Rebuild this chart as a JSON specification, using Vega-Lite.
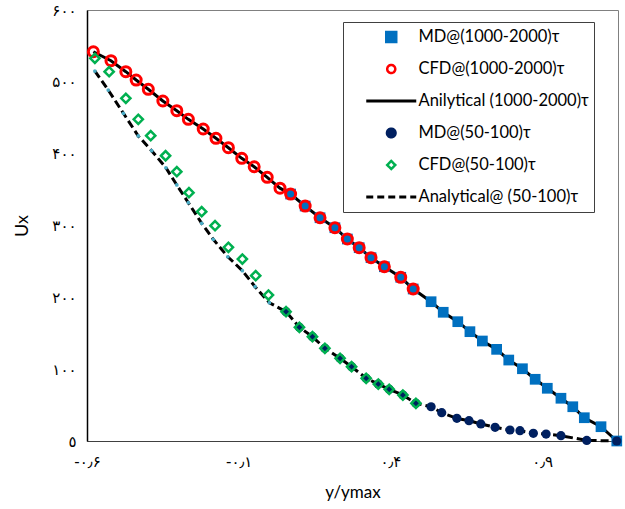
{
  "$schema": "https://vega.github.io/schema/vega-lite/v6.json",
  "width": 531,
  "height": 431,
  "autosize": "none",
  "padding": {"left": 87, "top": 10, "right": 7, "bottom": 68},
  "config": {
    "locale": {"number": {"decimal": "٫", "thousands": "٬", "grouping": [3], "currency": ["", ""], "numerals": ["۰","۱","۲","۳","۴","۵","۶","۷","۸","۹"], "minus": "-"}},
    "view": {"stroke": "#808080", "strokeWidth": 1},
    "font": "Lato"
  },
  "data": {"values": [
    {"s": "MD@(1000-2000)τ", "x": 0.071, "y": 343.8},
    {"s": "MD@(1000-2000)τ", "x": 0.119, "y": 327.1},
    {"s": "MD@(1000-2000)τ", "x": 0.168, "y": 310.8},
    {"s": "MD@(1000-2000)τ", "x": 0.217, "y": 296.9},
    {"s": "MD@(1000-2000)τ", "x": 0.258, "y": 281.2},
    {"s": "MD@(1000-2000)τ", "x": 0.297, "y": 269.1},
    {"s": "MD@(1000-2000)τ", "x": 0.336, "y": 255.2},
    {"s": "MD@(1000-2000)τ", "x": 0.380, "y": 242.6},
    {"s": "MD@(1000-2000)τ", "x": 0.434, "y": 227.9},
    {"s": "MD@(1000-2000)τ", "x": 0.475, "y": 211.6},
    {"s": "MD@(1000-2000)τ", "x": 0.534, "y": 193.9},
    {"s": "MD@(1000-2000)τ", "x": 0.574, "y": 179.2},
    {"s": "MD@(1000-2000)τ", "x": 0.622, "y": 166.1},
    {"s": "MD@(1000-2000)τ", "x": 0.662, "y": 152.2},
    {"s": "MD@(1000-2000)τ", "x": 0.703, "y": 139.2},
    {"s": "MD@(1000-2000)τ", "x": 0.750, "y": 127.6},
    {"s": "MD@(1000-2000)τ", "x": 0.790, "y": 112.7},
    {"s": "MD@(1000-2000)τ", "x": 0.835, "y": 100.6},
    {"s": "MD@(1000-2000)τ", "x": 0.877, "y": 85.9},
    {"s": "MD@(1000-2000)τ", "x": 0.917, "y": 73.4},
    {"s": "MD@(1000-2000)τ", "x": 0.962, "y": 59.5},
    {"s": "MD@(1000-2000)τ", "x": 1.001, "y": 47.7},
    {"s": "MD@(1000-2000)τ", "x": 1.039, "y": 32.4},
    {"s": "MD@(1000-2000)τ", "x": 1.094, "y": 19.9},
    {"s": "MD@(1000-2000)τ", "x": 1.146, "y": 0},

    {"s": "CFD@(1000-2000)τ", "x": -0.579, "y": 541.9},
    {"s": "CFD@(1000-2000)τ", "x": -0.521, "y": 529.4},
    {"s": "CFD@(1000-2000)τ", "x": -0.472, "y": 514.1},
    {"s": "CFD@(1000-2000)τ", "x": -0.438, "y": 502.5},
    {"s": "CFD@(1000-2000)τ", "x": -0.398, "y": 489.6},
    {"s": "CFD@(1000-2000)τ", "x": -0.350, "y": 473.3},
    {"s": "CFD@(1000-2000)τ", "x": -0.304, "y": 459.8},
    {"s": "CFD@(1000-2000)τ", "x": -0.266, "y": 447.8},
    {"s": "CFD@(1000-2000)τ", "x": -0.217, "y": 434.3},
    {"s": "CFD@(1000-2000)τ", "x": -0.175, "y": 421.4},
    {"s": "CFD@(1000-2000)τ", "x": -0.134, "y": 408.3},
    {"s": "CFD@(1000-2000)τ", "x": -0.090, "y": 393.5},
    {"s": "CFD@(1000-2000)τ", "x": -0.049, "y": 381.8},
    {"s": "CFD@(1000-2000)τ", "x": -0.006, "y": 367.1},
    {"s": "CFD@(1000-2000)τ", "x": 0.036, "y": 352.0},
    {"s": "CFD@(1000-2000)τ", "x": 0.071, "y": 343.8},
    {"s": "CFD@(1000-2000)τ", "x": 0.119, "y": 327.1},
    {"s": "CFD@(1000-2000)τ", "x": 0.168, "y": 310.8},
    {"s": "CFD@(1000-2000)τ", "x": 0.217, "y": 296.9},
    {"s": "CFD@(1000-2000)τ", "x": 0.258, "y": 281.2},
    {"s": "CFD@(1000-2000)τ", "x": 0.297, "y": 269.1},
    {"s": "CFD@(1000-2000)τ", "x": 0.336, "y": 255.2},
    {"s": "CFD@(1000-2000)τ", "x": 0.380, "y": 242.6},
    {"s": "CFD@(1000-2000)τ", "x": 0.434, "y": 227.9},
    {"s": "CFD@(1000-2000)τ", "x": 0.475, "y": 211.6},

    {"s": "Anilytical (1000-2000)τ", "x": -0.579, "y": 541.9},
    {"s": "Anilytical (1000-2000)τ", "x": -0.521, "y": 529.4},
    {"s": "Anilytical (1000-2000)τ", "x": -0.472, "y": 514.1},
    {"s": "Anilytical (1000-2000)τ", "x": -0.438, "y": 502.5},
    {"s": "Anilytical (1000-2000)τ", "x": -0.398, "y": 489.6},
    {"s": "Anilytical (1000-2000)τ", "x": -0.350, "y": 473.3},
    {"s": "Anilytical (1000-2000)τ", "x": -0.304, "y": 459.8},
    {"s": "Anilytical (1000-2000)τ", "x": -0.266, "y": 447.8},
    {"s": "Anilytical (1000-2000)τ", "x": -0.217, "y": 434.3},
    {"s": "Anilytical (1000-2000)τ", "x": -0.175, "y": 421.4},
    {"s": "Anilytical (1000-2000)τ", "x": -0.134, "y": 408.3},
    {"s": "Anilytical (1000-2000)τ", "x": -0.090, "y": 393.5},
    {"s": "Anilytical (1000-2000)τ", "x": -0.049, "y": 381.8},
    {"s": "Anilytical (1000-2000)τ", "x": -0.006, "y": 367.1},
    {"s": "Anilytical (1000-2000)τ", "x": 0.036, "y": 352.0},
    {"s": "Anilytical (1000-2000)τ", "x": 0.071, "y": 343.8},
    {"s": "Anilytical (1000-2000)τ", "x": 0.119, "y": 327.1},
    {"s": "Anilytical (1000-2000)τ", "x": 0.168, "y": 310.8},
    {"s": "Anilytical (1000-2000)τ", "x": 0.217, "y": 296.9},
    {"s": "Anilytical (1000-2000)τ", "x": 0.258, "y": 281.2},
    {"s": "Anilytical (1000-2000)τ", "x": 0.297, "y": 269.1},
    {"s": "Anilytical (1000-2000)τ", "x": 0.336, "y": 255.2},
    {"s": "Anilytical (1000-2000)τ", "x": 0.380, "y": 242.6},
    {"s": "Anilytical (1000-2000)τ", "x": 0.434, "y": 227.9},
    {"s": "Anilytical (1000-2000)τ", "x": 0.475, "y": 211.6},
    {"s": "Anilytical (1000-2000)τ", "x": 0.534, "y": 193.9},
    {"s": "Anilytical (1000-2000)τ", "x": 0.574, "y": 179.2},
    {"s": "Anilytical (1000-2000)τ", "x": 0.622, "y": 166.1},
    {"s": "Anilytical (1000-2000)τ", "x": 0.662, "y": 152.2},
    {"s": "Anilytical (1000-2000)τ", "x": 0.703, "y": 139.2},
    {"s": "Anilytical (1000-2000)τ", "x": 0.750, "y": 127.6},
    {"s": "Anilytical (1000-2000)τ", "x": 0.790, "y": 112.7},
    {"s": "Anilytical (1000-2000)τ", "x": 0.835, "y": 100.6},
    {"s": "Anilytical (1000-2000)τ", "x": 0.877, "y": 85.9},
    {"s": "Anilytical (1000-2000)τ", "x": 0.917, "y": 73.4},
    {"s": "Anilytical (1000-2000)τ", "x": 0.962, "y": 59.5},
    {"s": "Anilytical (1000-2000)τ", "x": 1.001, "y": 47.7},
    {"s": "Anilytical (1000-2000)τ", "x": 1.039, "y": 32.4},
    {"s": "Anilytical (1000-2000)τ", "x": 1.094, "y": 19.9},
    {"s": "Anilytical (1000-2000)τ", "x": 1.146, "y": 0},

    {"s": "MD@(50-100)τ", "x": 0.056, "y": 180.0},
    {"s": "MD@(50-100)τ", "x": 0.100, "y": 158.3},
    {"s": "MD@(50-100)τ", "x": 0.143, "y": 145.2},
    {"s": "MD@(50-100)τ", "x": 0.184, "y": 129.0},
    {"s": "MD@(50-100)τ", "x": 0.234, "y": 115.1},
    {"s": "MD@(50-100)τ", "x": 0.272, "y": 103.4},
    {"s": "MD@(50-100)τ", "x": 0.320, "y": 87.3},
    {"s": "MD@(50-100)τ", "x": 0.360, "y": 79.3},
    {"s": "MD@(50-100)τ", "x": 0.396, "y": 72.0},
    {"s": "MD@(50-100)τ", "x": 0.441, "y": 64.0},
    {"s": "MD@(50-100)τ", "x": 0.484, "y": 52.5},
    {"s": "MD@(50-100)τ", "x": 0.534, "y": 47.7},
    {"s": "MD@(50-100)τ", "x": 0.569, "y": 39.4},
    {"s": "MD@(50-100)τ", "x": 0.619, "y": 31.6},
    {"s": "MD@(50-100)τ", "x": 0.659, "y": 28.3},
    {"s": "MD@(50-100)τ", "x": 0.698, "y": 23.7},
    {"s": "MD@(50-100)τ", "x": 0.745, "y": 19.1},
    {"s": "MD@(50-100)τ", "x": 0.794, "y": 15.3},
    {"s": "MD@(50-100)τ", "x": 0.827, "y": 14.3},
    {"s": "MD@(50-100)τ", "x": 0.871, "y": 10.7},
    {"s": "MD@(50-100)τ", "x": 0.913, "y": 9.7},
    {"s": "MD@(50-100)τ", "x": 0.962, "y": 7.4},
    {"s": "MD@(50-100)τ", "x": 1.047, "y": 0.8},
    {"s": "MD@(50-100)τ", "x": 1.146, "y": 0},

    {"s": "CFD@(50-100)τ", "x": -0.574, "y": 532.7},
    {"s": "CFD@(50-100)τ", "x": -0.527, "y": 514.1},
    {"s": "CFD@(50-100)τ", "x": -0.472, "y": 477.0},
    {"s": "CFD@(50-100)τ", "x": -0.431, "y": 447.8},
    {"s": "CFD@(50-100)τ", "x": -0.390, "y": 425.0},
    {"s": "CFD@(50-100)τ", "x": -0.341, "y": 397.1},
    {"s": "CFD@(50-100)τ", "x": -0.304, "y": 374.9},
    {"s": "CFD@(50-100)τ", "x": -0.264, "y": 345.7},
    {"s": "CFD@(50-100)τ", "x": -0.222, "y": 319.2},
    {"s": "CFD@(50-100)τ", "x": -0.178, "y": 299.7},
    {"s": "CFD@(50-100)τ", "x": -0.134, "y": 269.6},
    {"s": "CFD@(50-100)τ", "x": -0.088, "y": 253.3},
    {"s": "CFD@(50-100)τ", "x": -0.044, "y": 230.1},
    {"s": "CFD@(50-100)τ", "x": -0.002, "y": 203.2},
    {"s": "CFD@(50-100)τ", "x": 0.056, "y": 180.0},
    {"s": "CFD@(50-100)τ", "x": 0.100, "y": 158.3},
    {"s": "CFD@(50-100)τ", "x": 0.143, "y": 145.2},
    {"s": "CFD@(50-100)τ", "x": 0.184, "y": 129.0},
    {"s": "CFD@(50-100)τ", "x": 0.234, "y": 115.1},
    {"s": "CFD@(50-100)τ", "x": 0.272, "y": 103.4},
    {"s": "CFD@(50-100)τ", "x": 0.320, "y": 87.3},
    {"s": "CFD@(50-100)τ", "x": 0.360, "y": 79.3},
    {"s": "CFD@(50-100)τ", "x": 0.396, "y": 72.0},
    {"s": "CFD@(50-100)τ", "x": 0.441, "y": 64.0},
    {"s": "CFD@(50-100)τ", "x": 0.484, "y": 52.5},

    {"s": "Analytical@ (50-100)τ", "x": -0.574, "y": 515.0},
    {"s": "Analytical@ (50-100)τ", "x": -0.530, "y": 488.6},
    {"s": "Analytical@ (50-100)τ", "x": -0.480, "y": 456.2},
    {"s": "Analytical@ (50-100)τ", "x": -0.431, "y": 424.6},
    {"s": "Analytical@ (50-100)τ", "x": -0.387, "y": 404.1},
    {"s": "Analytical@ (50-100)τ", "x": -0.340, "y": 380.4},
    {"s": "Analytical@ (50-100)τ", "x": -0.304, "y": 356.4},
    {"s": "Analytical@ (50-100)τ", "x": -0.266, "y": 331.7},
    {"s": "Analytical@ (50-100)τ", "x": -0.222, "y": 303.0},
    {"s": "Analytical@ (50-100)τ", "x": -0.184, "y": 280.8},
    {"s": "Analytical@ (50-100)τ", "x": -0.136, "y": 256.5},
    {"s": "Analytical@ (50-100)τ", "x": -0.088, "y": 237.1},
    {"s": "Analytical@ (50-100)τ", "x": -0.046, "y": 214.8},
    {"s": "Analytical@ (50-100)τ", "x": 0.001, "y": 192.5},
    {"s": "Analytical@ (50-100)τ", "x": 0.056, "y": 180.0},
    {"s": "Analytical@ (50-100)τ", "x": 0.100, "y": 158.3},
    {"s": "Analytical@ (50-100)τ", "x": 0.143, "y": 145.2},
    {"s": "Analytical@ (50-100)τ", "x": 0.184, "y": 129.0},
    {"s": "Analytical@ (50-100)τ", "x": 0.234, "y": 115.1},
    {"s": "Analytical@ (50-100)τ", "x": 0.272, "y": 103.4},
    {"s": "Analytical@ (50-100)τ", "x": 0.320, "y": 87.3},
    {"s": "Analytical@ (50-100)τ", "x": 0.360, "y": 79.3},
    {"s": "Analytical@ (50-100)τ", "x": 0.396, "y": 72.0},
    {"s": "Analytical@ (50-100)τ", "x": 0.441, "y": 64.0},
    {"s": "Analytical@ (50-100)τ", "x": 0.484, "y": 52.5},
    {"s": "Analytical@ (50-100)τ", "x": 0.534, "y": 47.7},
    {"s": "Analytical@ (50-100)τ", "x": 0.569, "y": 39.4},
    {"s": "Analytical@ (50-100)τ", "x": 0.619, "y": 31.6},
    {"s": "Analytical@ (50-100)τ", "x": 0.659, "y": 28.3},
    {"s": "Analytical@ (50-100)τ", "x": 0.698, "y": 23.7},
    {"s": "Analytical@ (50-100)τ", "x": 0.745, "y": 19.1},
    {"s": "Analytical@ (50-100)τ", "x": 0.794, "y": 15.3},
    {"s": "Analytical@ (50-100)τ", "x": 0.827, "y": 14.3},
    {"s": "Analytical@ (50-100)τ", "x": 0.871, "y": 10.7},
    {"s": "Analytical@ (50-100)τ", "x": 0.913, "y": 9.7},
    {"s": "Analytical@ (50-100)τ", "x": 0.962, "y": 7.4},
    {"s": "Analytical@ (50-100)τ", "x": 1.047, "y": 0.8},
    {"s": "Analytical@ (50-100)τ", "x": 1.146, "y": 0}
  ]},
  "encoding": {
    "x": {
      "field": "x", "type": "quantitative",
      "scale": {"domain": [-0.6, 1.15], "nice": false, "zero": false},
      "axis": {
        "values": [-0.6, -0.1, 0.4, 0.9], "format": ".1f", "title": "y/ymax",
        "grid": false, "ticks": false, "labelPadding": 13, "labelFont": "DejaVu Sans",
        "labelFontSize": 15, "labelColor": "#000", "domainColor": "#404040", "labelFlush": false,
        "titleFont": "Lato", "titleFontSize": 17, "titleFontWeight": "normal", "titleColor": "#000", "titlePadding": 15
      }
    },
    "y": {
      "field": "y", "type": "quantitative",
      "scale": {"domain": [0, 600], "nice": false},
      "axis": {
        "values": [0, 100, 200, 300, 400, 500, 600], "format": "d",
        "labelExpr": "datum.value == 0 ? '٥' : datum.label",
        "title": "Ux", "grid": false, "ticks": false, "labelPadding": 11, "labelFont": "DejaVu Sans",
        "labelFontSize": 15, "labelColor": "#000", "domainColor": "#000", "domainWidth": 1.5, "labelFlush": false,
        "titleFont": "Lato", "titleFontSize": 18, "titleFontWeight": "normal", "titleColor": "#000", "titlePadding": 20
      }
    },
    "color": {
      "field": "s", "type": "nominal",
      "scale": {
        "domain": ["MD@(1000-2000)τ", "CFD@(1000-2000)τ", "Anilytical (1000-2000)τ", "MD@(50-100)τ", "CFD@(50-100)τ", "Analytical@ (50-100)τ"],
        "range": ["#0070C0", "#FF0000", "#000000", "#002060", "#00B050", "#000000"]
      },
      "legend": {
        "title": null, "orient": "none", "legendX": 256, "legendY": 12,
        "direction": "vertical",
        "strokeColor": "#404040", "padding": 5, "symbolOffset": 35,
        "symbolSize": 2500, "clipHeight": 20, "rowPadding": 12, "labelOffset": 19,
        "labelFont": "Lato", "labelFontSize": 16.5, "labelColor": "#000", "labelLimit": 300,
        "labelExpr": "datum.label + '\u00a0\u00a0\u00a0\u00a0'",
        "encode": {
          "symbols": {
            "update": {
              "shape": {"signal": "datum.value == 'MD@(1000-2000)τ' ? 'square' : datum.value == 'CFD@(50-100)τ' ? 'diamond' : (datum.value == 'CFD@(1000-2000)τ' || datum.value == 'MD@(50-100)τ') ? 'circle' : 'stroke'"},
              "size": {"signal": "datum.value == 'MD@(1000-2000)τ' ? 90 : (datum.value == 'CFD@(1000-2000)τ' || datum.value == 'MD@(50-100)τ' || datum.value == 'CFD@(50-100)τ') ? 65 : 2500"},
              "fillOpacity": {"signal": "(datum.value == 'MD@(1000-2000)τ' || datum.value == 'MD@(50-100)τ') ? 1 : 0"},
              "stroke": {"signal": "datum.value == 'CFD@(1000-2000)τ' ? '#FF0000' : datum.value == 'CFD@(50-100)τ' ? '#00B050' : (datum.value == 'MD@(1000-2000)τ' || datum.value == 'MD@(50-100)τ') ? 'transparent' : '#000000'"},
              "strokeWidth": {"signal": "(datum.value == 'CFD@(1000-2000)τ' || datum.value == 'CFD@(50-100)τ') ? 2.5 : 3"},
              "strokeDash": {"signal": "datum.value == 'Analytical@ (50-100)τ' ? [7, 4] : [1, 0]"},
              "opacity": {"value": 1}
            }
          }
        }
      }
    }
  },
  "layer": [
    {
      "transform": [{"filter": "datum.s == 'Anilytical (1000-2000)τ'"}],
      "mark": {"type": "line", "strokeWidth": 3}
    },
    {
      "transform": [{"filter": "datum.s == 'Analytical@ (50-100)τ'"}],
      "mark": {"type": "line", "strokeWidth": 3, "strokeDash": [8, 4]}
    },
    {
      "transform": [{"filter": "datum.s == 'Analytical@ (50-100)τ'"}],
      "mark": {"type": "circle", "size": 14, "opacity": 1},
      "encoding": {"color": {"value": "#4BACC6"}}
    },
    {
      "transform": [{"filter": "datum.s == 'MD@(1000-2000)τ'"}],
      "mark": {"type": "point", "shape": "square", "filled": true, "size": 115, "opacity": 1}
    },
    {
      "transform": [{"filter": "datum.s == 'MD@(50-100)τ'"}],
      "mark": {"type": "point", "shape": "circle", "filled": true, "size": 85, "opacity": 1}
    },
    {
      "transform": [{"filter": "datum.s == 'CFD@(1000-2000)τ'"}],
      "mark": {"type": "point", "shape": "circle", "filled": false, "size": 100, "strokeWidth": 3, "opacity": 1}
    },
    {
      "transform": [{"filter": "datum.s == 'CFD@(50-100)τ'"}],
      "mark": {"type": "point", "shape": "diamond", "filled": false, "size": 85, "strokeWidth": 2.5, "opacity": 1}
    }
  ]
}
